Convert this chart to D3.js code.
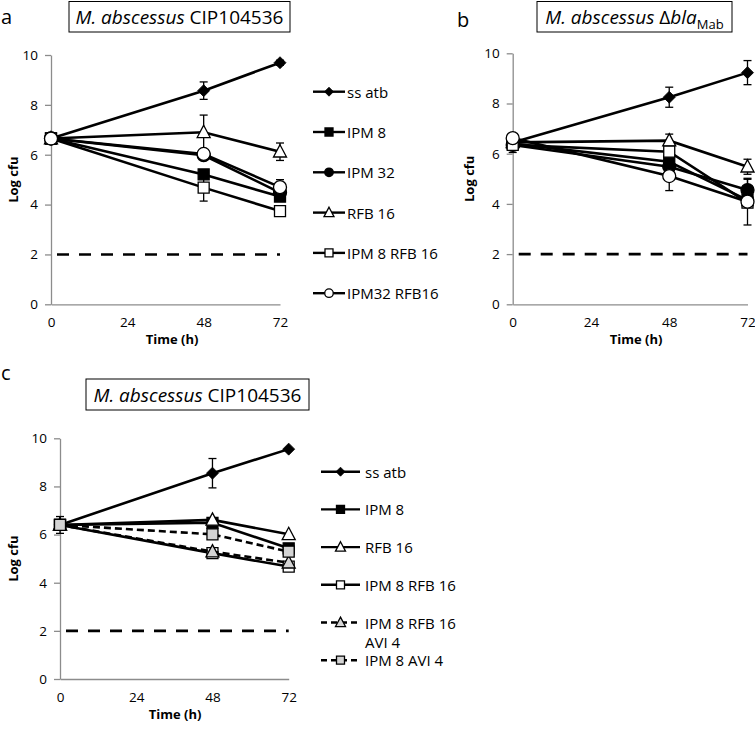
<!DOCTYPE html>
<html><head><meta charset="utf-8">
<script src="https://cdn.jsdelivr.net/npm/d3@7"></script>
<style>
html,body{margin:0;padding:0;background:#fff;}
svg{display:block;font-family:"Open Sans",sans-serif;}
</style></head>
<body>
<svg id="chart" width="755" height="730"></svg>
<script>
// ---------- DATA ----------
const timePoints = [0, 48, 72];
const xTickValues = [0, 24, 48, 72];
const yTickValues = [0, 2, 4, 6, 8, 10];
const detectionLimit = 2;

// Panel a : M. abscessus CIP104536
const aNames = ["ss atb", "IPM 8", "IPM 32", "RFB 16", "IPM 8 RFB 16", "IPM32 RFB16"];
const aSsAtb = [6.65, 8.57, 9.69];       const aSsAtbErr = [0, 0.35, 0.1];
const aIpm8 = [6.65, 5.21, 4.32];        const aIpm8Err = [0, 0, 0];
const aIpm32 = [6.65, 5.98, 4.48];       const aIpm32Err = [0, 0, 0];
const aRfb16 = [6.65, 6.90, 6.12];       const aRfb16Err = [0, 0.69, 0.35];
const aIpm8Rfb16 = [6.65, 4.68, 3.74];   const aIpm8Rfb16Err = [0, 0.54, 0];
const aIpm32Rfb16 = [6.65, 6.03, 4.70];  const aIpm32Rfb16Err = [0, 0, 0.3];

// Panel b : M. abscessus Δbla_Mab
const bSsAtb = [6.45, 8.25, 9.23];       const bSsAtbErr = [0, 0.4, 0.48];
const bIpm8 = [6.40, 5.68, 4.15];        const bIpm8Err = [0, 0, 0];
const bIpm32 = [6.35, 5.48, 4.55];       const bIpm32Err = [0, 0, 0.43];
const bRfb16 = [6.45, 6.52, 5.48];       const bRfb16Err = [0, 0.26, 0.3];
const bIpm8Rfb16 = [6.35, 6.08, 4.05];   const bIpm8Rfb16Err = [0.3, 0, 0];
const bIpm32Rfb16 = [6.62, 5.11, 4.09];  const bIpm32Rfb16Err = [0, 0.58, 0.93];

// Panel c : M. abscessus CIP104536 with avibactam
const cNames = ["ss atb", "IPM 8", "RFB 16", "IPM 8 RFB 16", "IPM 8 RFB 16|AVI 4", "IPM 8 AVI 4"];
const cSsAtb = [6.40, 8.55, 9.55];          const cSsAtbErr = [0, 0.61, 0];
const cIpm8 = [6.40, 6.49, 5.43];           const cIpm8Err = [0, 0, 0];
const cRfb16 = [6.40, 6.61, 6.01];          const cRfb16Err = [0, 0, 0];
const cIpm8Rfb16 = [6.40, 5.23, 4.67];      const cIpm8Rfb16Err = [0, 0, 0];
const cIpm8Rfb16Avi4 = [6.40, 5.29, 4.83];  const cIpm8Rfb16Avi4Err = [0, 0, 0];
const cIpm8Avi4 = [6.40, 6.01, 5.29];       const cIpm8Avi4Err = [0.35, 0, 0];

// ---------- STYLES ----------
const styleA = [
  {shape:"diamond", fill:"#000", dash:null},
  {shape:"square", fill:"#000", dash:null},
  {shape:"circle", fill:"#000", dash:null},
  {shape:"triangle", fill:"#fff", dash:null},
  {shape:"square", fill:"#fff", dash:null},
  {shape:"circle", fill:"#fff", dash:null}
];
const styleC = [
  {shape:"diamond", fill:"#000", dash:null},
  {shape:"square", fill:"#000", dash:null},
  {shape:"triangle", fill:"#fff", dash:null},
  {shape:"square", fill:"#fff", dash:null},
  {shape:"triangle", fill:"#d4d4d4", dash:"7,4"},
  {shape:"square", fill:"#d4d4d4", dash:"7,4"}
];

const svg = d3.select("#chart");

function markerPath(shape, s) {
  const h = s/2;
  if (shape === "diamond") return `M0,${-h}L${h},0L0,${h}L${-h},0Z`;
  if (shape === "square") return `M${-h},${-h}H${h}V${h}H${-h}Z`;
  if (shape === "triangle") { const t = s*0.9; return `M0,${-t*0.6}L${h},${t*0.45}L${-h},${t*0.45}Z`; }
  return null;
}
function drawMarker(g, shape, fill, x, y, s) {
  if (shape === "circle") {
    g.append("circle").attr("cx", x).attr("cy", y).attr("r", s/2)
      .attr("fill", fill).attr("stroke", "#000").attr("stroke-width", 1.3);
  } else {
    g.append("path").attr("d", markerPath(shape, s))
      .attr("transform", `translate(${x},${y})`)
      .attr("fill", fill).attr("stroke", "#000").attr("stroke-width", shape==="diamond"?0.8:1.3)
      .attr("stroke-linejoin", "miter");
  }
}

function drawPanel(cfg) {
  const x = d3.scaleLinear().domain([0, 72]).range(cfg.xr);
  const y = d3.scaleLinear().domain([0, 10]).range(cfg.yr);
  const g = svg.append("g");

  const ya = g.append("g").attr("transform", `translate(${cfg.xr[0]},0)`)
    .call(d3.axisLeft(y).tickValues(yTickValues).tickSize(6).tickPadding(7).tickSizeOuter(0));
  const xa = g.append("g").attr("transform", `translate(0,${cfg.yr[0]})`)
    .call(d3.axisBottom(x).tickValues(xTickValues).tickSize(0).tickPadding(13).tickSizeOuter(0));
  [ya, xa].forEach(a => {
    a.select(".domain").attr("stroke", "#8c8c8c").attr("stroke-width", 1.3);
    a.selectAll(".tick line").attr("stroke", "#8c8c8c").attr("stroke-width", 1.3);
    a.selectAll(".tick text").attr("font-family", "Open Sans").attr("font-size", 13.5).attr("fill", "#000");
  });

  g.append("text").attr("x", cfg.timeX).attr("y", cfg.yr[0] + 40)
    .attr("text-anchor", "middle").attr("font-weight", "bold").attr("font-size", 13).text("Time (h)");
  g.append("text").attr("transform", `translate(${cfg.logX},${(cfg.yr[0]+cfg.yr[1])/2}) rotate(-90)`)
    .attr("text-anchor", "middle").attr("dominant-baseline", "central")
    .attr("font-weight", "bold").attr("font-size", 13).text("Log cfu");

  g.append("line").attr("x1", x(0)).attr("x2", x(72))
    .attr("y1", y(detectionLimit)).attr("y2", y(detectionLimit))
    .attr("stroke", "#000").attr("stroke-width", 2.6).attr("stroke-dasharray", "12,10")
    .attr("stroke-dashoffset", -6);

  const line = d3.line().x(d => x(d[0])).y(d => y(d[1]));
  cfg.series.forEach((s, i) => {
    const st = cfg.styles[i];
    const pts = timePoints.map((t, k) => [t, s.v[k], s.e[k]]);
    const sg = g.append("g");
    sg.append("path").datum(pts).attr("d", line).attr("fill", "none")
      .attr("stroke", "#000").attr("stroke-width", 2.6)
      .attr("stroke-dasharray", st.dash);
    pts.forEach(p => {
      if (p[2] > 0) {
        const cx = x(p[0]), y1 = y(p[1]-p[2]), y2 = y(p[1]+p[2]);
        sg.append("line").attr("x1", cx).attr("x2", cx).attr("y1", y1).attr("y2", y2)
          .attr("stroke", "#000").attr("stroke-width", 1.3);
        [y1, y2].forEach(yy => sg.append("line").attr("x1", cx-4).attr("x2", cx+4)
          .attr("y1", yy).attr("y2", yy).attr("stroke", "#000").attr("stroke-width", 1.3));
      }
    });
    pts.forEach(p => {
      const sz = st.shape === "diamond" ? 12 : (st.shape === "circle" ? 13 : (st.shape==="triangle"?13:11));
      drawMarker(sg, st.shape, st.fill, x(p[0]), y(p[1]), sz);
    });
  });

  if (cfg.legend) {
    const L = cfg.legend;
    cfg.names.forEach((n, i) => {
      const st = cfg.styles[i];
      const ly = L.y0 + i * L.dy;
      const lg = g.append("g");
      lg.append("line").attr("x1", L.x1).attr("x2", L.x2).attr("y1", ly).attr("y2", ly)
        .attr("stroke", "#000").attr("stroke-width", 2.4).attr("stroke-dasharray", st.dash ? "6,4" : null);
      const sz = st.shape === "diamond" ? 9 : (st.shape === "circle" ? 8.5 : (st.shape==="triangle"?10:8));
      drawMarker(lg, st.shape, st.fill, (L.x1+L.x2)/2, ly, sz);
      const parts = n.split("|");
      const t = lg.append("text").attr("x", L.tx).attr("y", ly).attr("dominant-baseline", "central")
        .attr("font-size", 15).attr("fill", "#000");
      parts.forEach((p, k) => t.append("tspan").attr("x", L.tx).attr("dy", k === 0 ? 0 : 19.5).text(p));
    });
  }
}

function titleBox(x0, y0, w, h, build) {
  svg.append("rect").attr("x", x0).attr("y", y0).attr("width", w).attr("height", h)
    .attr("fill", "#fff").attr("stroke", "#000").attr("stroke-width", 1);
  const t = svg.append("text").attr("x", x0 + w/2).attr("y", y0 + h/2 + 7)
    .attr("text-anchor", "middle").attr("font-size", 19).attr("fill", "#000");
  build(t);
}

function mk(vals, errs) { return {v: vals, e: errs}; }

drawPanel({
  xr: [51, 280], yr: [304.3, 55], timeX: 172, logX: 12.5,
  series: [mk(aSsAtb,aSsAtbErr), mk(aIpm8,aIpm8Err), mk(aIpm32,aIpm32Err), mk(aRfb16,aRfb16Err), mk(aIpm8Rfb16,aIpm8Rfb16Err), mk(aIpm32Rfb16,aIpm32Rfb16Err)],
  styles: styleA, names: aNames,
  legend: {x1: 313, x2: 345, tx: 347, y0: 91.7, dy: 40.3}
});
drawPanel({
  xr: [512.7, 747.5], yr: [304.3, 53.3], timeX: 636, logX: 468.5,
  series: [mk(bSsAtb,bSsAtbErr), mk(bIpm8,bIpm8Err), mk(bIpm32,bIpm32Err), mk(bRfb16,bRfb16Err), mk(bIpm8Rfb16,bIpm8Rfb16Err), mk(bIpm32Rfb16,bIpm32Rfb16Err)],
  styles: styleA, names: aNames, legend: null
});
drawPanel({
  xr: [60, 288.7], yr: [679, 438.3], timeX: 175, logX: 12.7,
  series: [mk(cSsAtb,cSsAtbErr), mk(cIpm8,cIpm8Err), mk(cRfb16,cRfb16Err), mk(cIpm8Rfb16,cIpm8Rfb16Err), mk(cIpm8Rfb16Avi4,cIpm8Rfb16Avi4Err), mk(cIpm8Avi4,cIpm8Avi4Err)],
  styles: styleC, names: cNames,
  legend: {x1: 321, x2: 360, tx: 365, y0: 471.7, dy: 37.7}
});

titleBox(69, 1.5, 221, 30.5, t => {
  t.append("tspan").attr("font-style", "italic").text("M. abscessus");
  t.append("tspan").text(" CIP104536");
});
titleBox(537, 1.5, 195, 30.5, t => {
  t.append("tspan").attr("font-style", "italic").text("M. abscessus");
  t.append("tspan").text(" Δ");
  t.append("tspan").attr("font-style", "italic").text("bla");
  t.append("tspan").attr("font-size", 13).attr("dy", 5).text("Mab");
});
titleBox(86, 379, 223, 31, t => {
  t.append("tspan").attr("font-style", "italic").text("M. abscessus");
  t.append("tspan").text(" CIP104536");
});

[["a", 1, 24], ["b", 457, 27], ["c", 1, 380]].forEach(d => {
  svg.append("text").attr("x", d[1]).attr("y", d[2]).attr("font-size", 20).attr("fill", "#000").text(d[0]);
});
</script>
</body></html>
